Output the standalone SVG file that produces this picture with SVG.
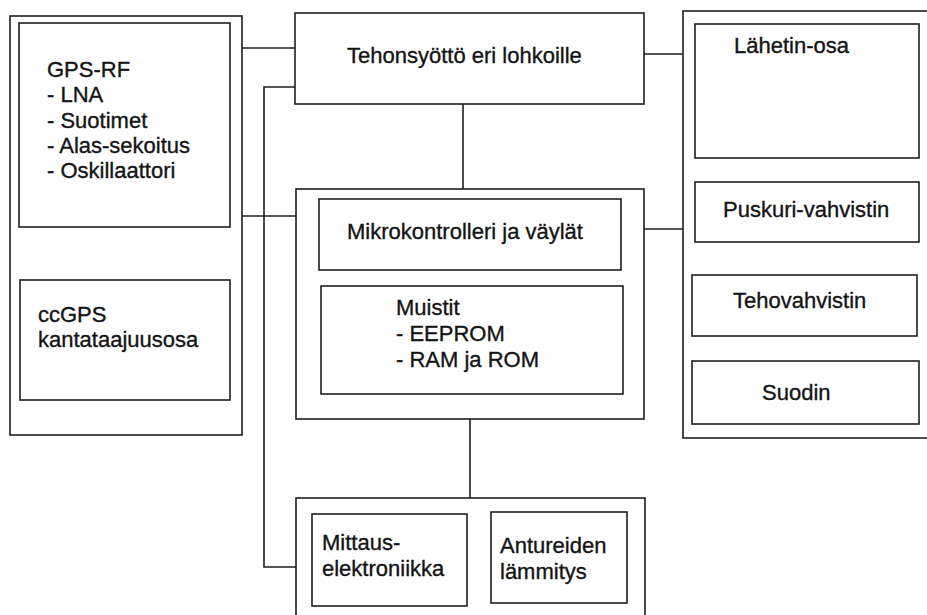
<svg xmlns="http://www.w3.org/2000/svg" width="927" height="615" viewBox="0 0 927 615">
  <style>
    .box { fill: none; stroke: #1e1e1e; stroke-width: 1.6; }
    .wire { fill: none; stroke: #1e1e1e; stroke-width: 1.6; }
    text { font-family: "Liberation Sans", Arial, sans-serif; font-size: 22px; fill: #141414; stroke: #141414; stroke-width: 0.35; }
  </style>
  <rect width="927" height="615" fill="#ffffff"/>

  <!-- Connectors -->
  <g id="connectors">
    <line class="wire" x1="242" y1="48" x2="295" y2="48"/>
    <polyline class="wire" points="295,87 264,87 264,567 296,567"/>
    <line class="wire" x1="242" y1="216" x2="296" y2="216"/>
    <line class="wire" x1="463" y1="104" x2="463" y2="189"/>
    <line class="wire" x1="644" y1="54" x2="683" y2="54"/>
    <line class="wire" x1="644" y1="229" x2="683" y2="229"/>
    <line class="wire" x1="470" y1="419" x2="470" y2="498"/>
  </g>

  <!-- Left block: RF and baseband -->
  <g id="left-block">
    <rect class="box" x="10" y="16" width="232" height="419"/>
    <g id="gps-rf">
      <rect class="box" x="19" y="23" width="211" height="204"/>
      <text x="47" y="77">GPS-RF</text>
      <text x="47" y="102">- LNA</text>
      <text x="47" y="128">- Suotimet</text>
      <text x="47" y="153">- Alas-sekoitus</text>
      <text x="47" y="178">- Oskillaattori</text>
    </g>
    <g id="ccgps">
      <rect class="box" x="20" y="280" width="210" height="120"/>
      <text x="38" y="322">ccGPS</text>
      <text x="38" y="347">kantataajuusosa</text>
    </g>
  </g>

  <!-- Power supply -->
  <g id="power">
    <rect class="box" x="295" y="13" width="349" height="91"/>
    <text x="347" y="63">Tehonsyöttö eri lohkoille</text>
  </g>

  <!-- Controller block -->
  <g id="controller-block">
    <rect class="box" x="296" y="189" width="348" height="230"/>
    <g id="mcu">
      <rect class="box" x="319" y="199" width="302" height="71"/>
      <text x="347" y="239">Mikrokontrolleri ja väylät</text>
    </g>
    <g id="memory">
      <rect class="box" x="321" y="286" width="302" height="108"/>
      <text x="396" y="315">Muistit</text>
      <text x="396" y="341">- EEPROM</text>
      <text x="396" y="367">- RAM ja ROM</text>
    </g>
  </g>

  <!-- Transmitter block -->
  <g id="transmitter-block">
    <rect class="box" x="683" y="11" width="260" height="427"/>
    <g id="tx">
      <rect class="box" x="695" y="24" width="224" height="134"/>
      <text x="734" y="53">Lähetin-osa</text>
    </g>
    <g id="buffer">
      <rect class="box" x="695" y="182" width="224" height="60"/>
      <text x="723" y="217">Puskuri-vahvistin</text>
    </g>
    <g id="pa">
      <rect class="box" x="692" y="275" width="225" height="61"/>
      <text x="733" y="308">Tehovahvistin</text>
    </g>
    <g id="filter">
      <rect class="box" x="692" y="361" width="227" height="63"/>
      <text x="762" y="400">Suodin</text>
    </g>
  </g>

  <!-- Measurement block -->
  <g id="measurement-block">
    <rect class="box" x="296" y="498" width="349" height="130"/>
    <g id="meas">
      <rect class="box" x="312" y="514" width="155" height="92"/>
      <text x="322" y="550">Mittaus-</text>
      <text x="322" y="576">elektroniikka</text>
    </g>
    <g id="heating">
      <rect class="box" x="491" y="512" width="136" height="91"/>
      <text x="500" y="553">Antureiden</text>
      <text x="500" y="579">lämmitys</text>
    </g>
  </g>
</svg>
